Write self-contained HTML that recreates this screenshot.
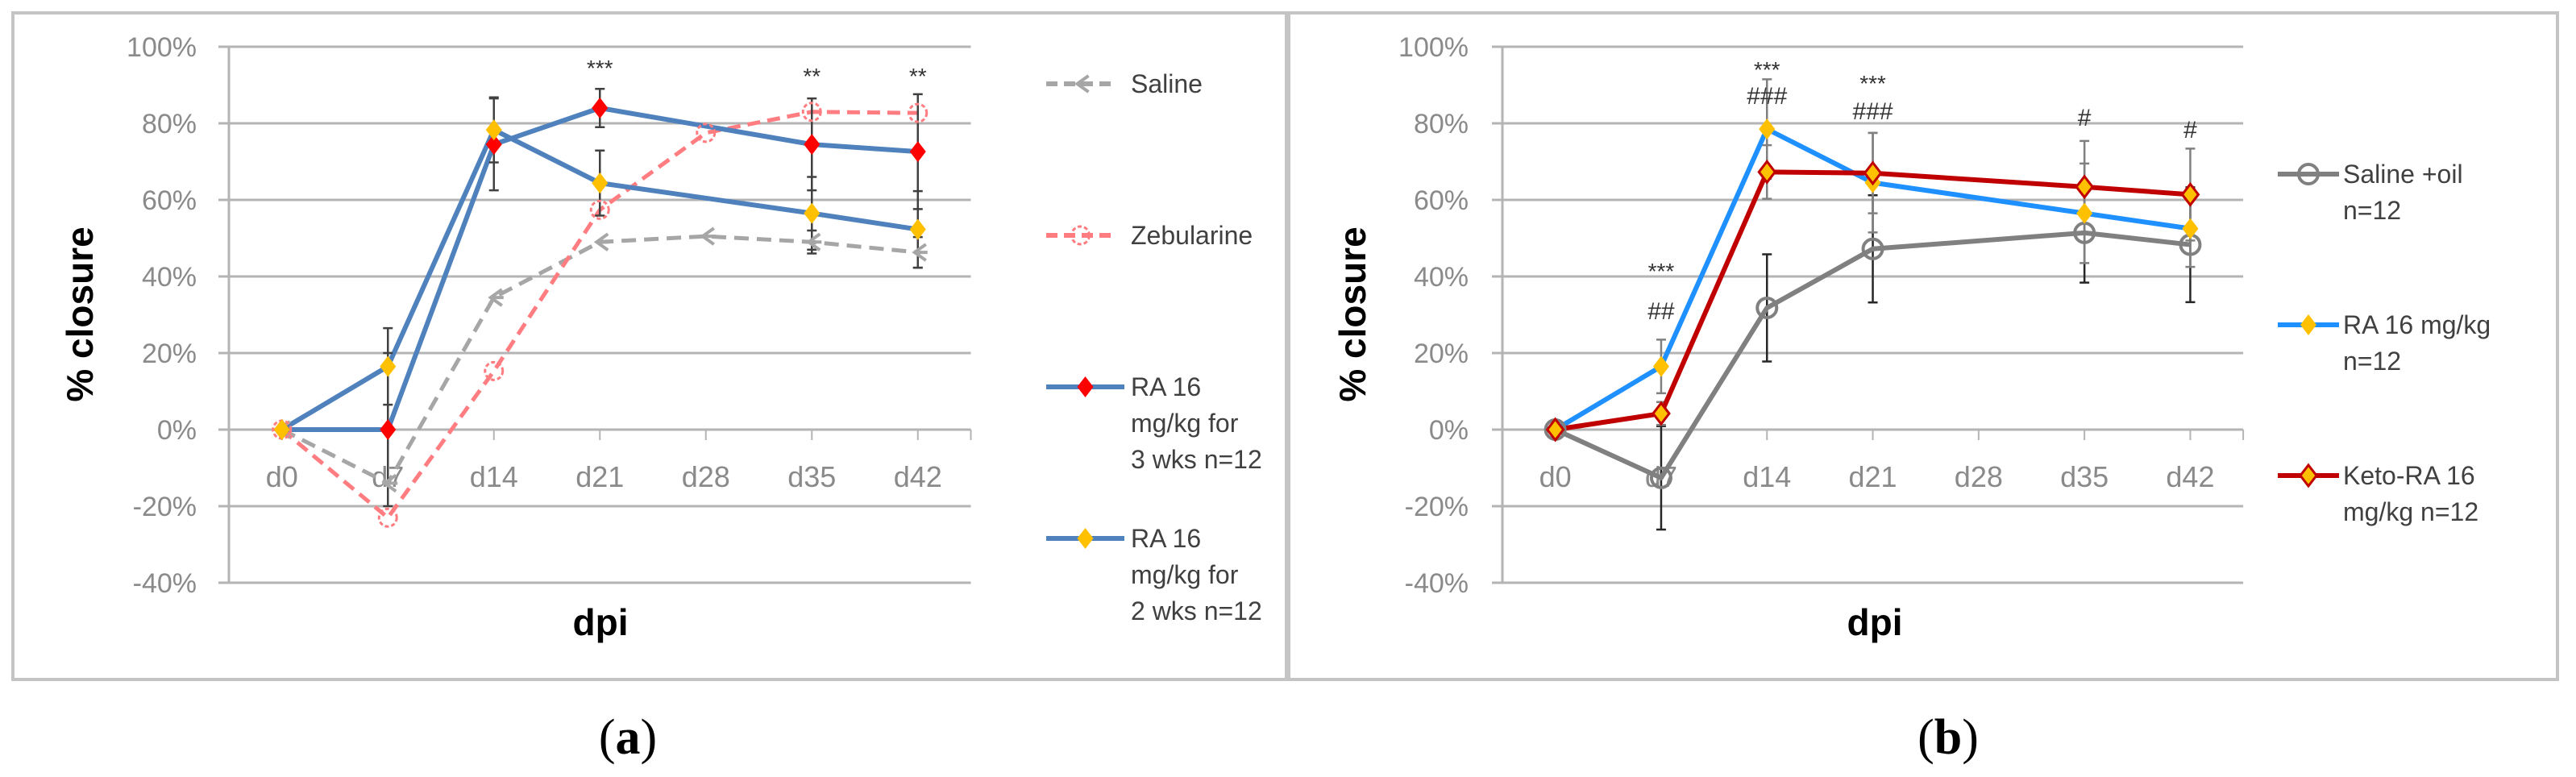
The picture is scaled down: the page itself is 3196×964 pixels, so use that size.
<!DOCTYPE html>
<html><head><meta charset="utf-8"><style>
html,body{margin:0;padding:0;background:#fff;}
svg{display:block;font-family:"Liberation Sans",sans-serif;}
</style></head><body>
<svg id="fig" width="3196" height="964" viewBox="0 0 3196 964">
<rect x="0" y="0" width="3196" height="964" fill="#fff"/>
<rect x="16" y="16" width="1580" height="827" fill="none" stroke="#c4c4c4" stroke-width="4"/>
<rect x="1599" y="16" width="1574" height="827" fill="none" stroke="#c4c4c4" stroke-width="4"/>
<text x="779" y="935" font-family="Liberation Serif,serif" font-size="62" text-anchor="middle">(<tspan font-weight="bold">a</tspan>)</text>
<text x="2417" y="935" font-family="Liberation Serif,serif" font-size="62" text-anchor="middle">(<tspan font-weight="bold">b</tspan>)</text>
</svg>
<script>
const categories = ["d0","d7","d14","d21","d28","d35","d42"];
const yTicks = [100,80,60,40,20,0,-20,-40];
const yTickLabels = ["100%","80%","60%","40%","20%","0%","-20%","-40%"];
// Panel a series (null = no point)
const aSaline      = [0,-14,34.5,49,50.5,49,46.3];
const aSalineErr   = [0,0,0,0,0,3,4];
const aZeb         = [0,-23,15.3,57.4,77.5,83,82.7];
const aZebErr      = [0,0,0,0,0,0,0];
const aRA3         = [0,0,74.5,84,null,74.5,72.6];
const aRA3Err      = [0,20,12,5,0,12,15];
const aRA2         = [0,16.5,78.3,64.4,null,56.5,52.3];
const aRA2Err      = [0,10,8.5,8.5,0,9.5,10];
const aStars       = ["","","","***","","**","**"];
// Panel b series
const bSaline      = [0,-12.6,31.8,47.2,null,51.4,48.3];
const bSalineErr   = [0,13.5,14,14,0,13,15];
const bRA          = [0,16.5,78.5,64.5,null,56.5,52.5];
const bRAErr       = [0,7,13,13,0,13,10];
const bKeto        = [0,4.2,67.3,67,null,63.4,61.4];
const bKetoErr     = [0,3,7,10.5,0,12,12];
const bStars       = ["","***","***","***","","",""];
const bHash        = ["","##","###","###","","#","#"];

const NS="http://www.w3.org/2000/svg";
const svg=document.getElementById('fig');
function el(tag,attrs,parent){const e=document.createElementNS(NS,tag);for(const k in attrs)e.setAttribute(k,attrs[k]);(parent||svg).appendChild(e);return e;}
function yScale(v){return 533-(v)*4.75;}
function makeX(x0,step){return i=>x0+step*(i+0.5);}

function axes(g,left,right,step,yLabelX,yTitleX,dpiX){
  yTicks.forEach((t,i)=>{
    const ln=el('line',{x1:left-13,x2:right,y1:yScale(t),y2:yScale(t),stroke:'#b4b4b4','stroke-width':3},g);
    
    
    const tx=el('text',{x:yLabelX,y:yScale(t)+12,'text-anchor':'end','font-size':34,fill:'#8a8a8a'},g);
    tx.textContent=yTickLabels[i];
    
    
  });
  const ax=el('line',{x1:left,x2:left,y1:yScale(100),y2:yScale(-40),stroke:'#b4b4b4','stroke-width':3},g);
  
  
  categories.forEach((c,i)=>{
    const x=left+step*(i+0.5);
    const tk=el('line',{x1:x,x2:x,y1:533,y2:546,stroke:'#b4b4b4','stroke-width':2},g);
    
    
    const tx=el('text',{x:x,y:604,'text-anchor':'middle','font-size':36,fill:'#8a8a8a'},g);
    tx.textContent=c;
    
    
  });
  const rt=el('line',{x1:right,x2:right,y1:533,y2:546,stroke:'#b4b4b4','stroke-width':2},g);
  
  
  const yt=el('text',{x:0,y:0,'text-anchor':'middle','font-size':46,'font-weight':'bold',fill:'#000',transform:`translate(${yTitleX+16},390) rotate(-90)`},g);
  yt.textContent='% closure';
  
  
  const xt=el('text',{x:dpiX,y:788,'text-anchor':'middle','font-size':46,'font-weight':'bold',fill:'#000'},g);
  xt.textContent='dpi';
  
  
}

function errBars(g,X,vals,errs,color){
  vals.forEach((v,i)=>{
    if(v===null||!errs[i])return;
    const x=X(i),y1=yScale(v+errs[i]),y2=yScale(v-errs[i]);
    const e=el('path',{d:`M${x},${y1}V${y2}M${x-6},${y1}H${x+6}M${x-6},${y2}H${x+6}`,stroke:color,'stroke-width':2.5,fill:'none'},g);
    
    
  });
}
function series(g,X,vals,color,width,dash,name){
  let d='';vals.forEach((v,i)=>{if(v===null)return;d+=(d?'L':'M')+X(i)+','+yScale(v);});
  const p=el('path',{d:d,stroke:color,'stroke-width':width,fill:'none','stroke-dasharray':dash||'none','stroke-linejoin':'round'},g);
  
  
}
function marker(g,x,y,type,fill,stroke,name){
  let m;
  if(type==='diamond'){m=el('path',{d:`M${x},${y-13}L${x+10},${y}L${x},${y+13}L${x-10},${y}Z`,fill:fill,stroke:stroke||'none','stroke-width':stroke?3:0},g);}
  else if(type==='circle'){m=el('circle',{cx:x,cy:y,r:12,fill:'none',stroke:stroke,'stroke-width':4},g);}
  else if(type==='dcircle'){m=el('circle',{cx:x,cy:y,r:11,fill:'none',stroke:stroke,'stroke-width':3,'stroke-dasharray':'5 3'},g);}
  else {m=el('path',{d:`M${x+10},${y-10}L${x-4},${y}L${x+10},${y+10}M${x-4},${y}H${x+12}`,fill:'none',stroke:stroke,'stroke-width':4},g);}
  
  
}
function markers(g,X,vals,type,fill,stroke,name){vals.forEach((v,i)=>{if(v===null)return;marker(g,X(i),yScale(v),type,fill,stroke,name);});}
function txt(g,x,y,s,size,fill,name,anchor){const t=el('text',{x:x,y:y,'font-size':size,fill:fill||'#000','text-anchor':anchor||'start'},g);t.textContent=s;return t;}
function legendEntry(g,x1,x2,y,color,dash,type,fill,stroke,lines,tx,name){
  const gg=el('g',{},g);
  
  
  const l=el('line',{x1:x1,x2:x2,y1:y,y2:y,stroke:color,'stroke-width':6,'stroke-dasharray':dash||'none'},gg);
  
  
  marker(gg,(x1+x2)/2,y,type,fill,stroke,'legend');
  lines.forEach((s,i)=>txt(gg,tx,y+11+i*45,s,32,'#404040','legend-label'));
}

// Panel A
const gA=el('g',{});
const leftA=284,stepA=131.5,rightA=leftA+7*stepA;const XA=makeX(leftA,stepA);
axes(gA,leftA,rightA,stepA,244,99,745);
series(gA,XA,aSaline,'#a6a6a6',5,'18 10','saline');
series(gA,XA,aZeb,'#ff7c80',5,'16 9','zebularine');
series(gA,XA,aRA3,'#4f81bd',6,null,'ra-3wks');
series(gA,XA,aRA2,'#4f81bd',6,null,'ra-2wks');
errBars(gA,XA,aSaline,aSalineErr,'#404040');
errBars(gA,XA,aRA3,aRA3Err,'#404040');
errBars(gA,XA,aRA2,aRA2Err,'#404040');
markers(gA,XA,aSaline,'arrow',null,'#a6a6a6','saline');
markers(gA,XA,aZeb,'dcircle',null,'#ff7c80','zebularine');
markers(gA,XA,aRA3,'diamond','#ff0000',null,'ra-3wks');
markers(gA,XA,aRA2,'diamond','#ffc000',null,'ra-2wks');
aStars.forEach((s,i)=>{if(s)txt(gA,XA(i),[0,0,0,94,0,104,104][i]||100,s,28,'#333','significance-stars','middle');});
legendEntry(gA,1298,1383,104,'#a6a6a6','14 8','arrow',null,'#a6a6a6',['Saline'],1403,'legend-saline');
legendEntry(gA,1298,1383,292,'#ff7c80','14 8','dcircle',null,'#ff7c80',['Zebularine'],1403,'legend-zebularine');
legendEntry(gA,1298,1395,480,'#4f81bd',null,'diamond','#ff0000',null,['RA 16','mg/kg  for','3 wks n=12'],1403,'legend-ra-3wks');
legendEntry(gA,1298,1395,668,'#4f81bd',null,'diamond','#ffc000',null,['RA 16','mg/kg  for','2 wks n=12'],1403,'legend-ra-2wks');

// Panel B
const gB=el('g',{});
const leftB=1864,stepB=131.3,rightB=leftB+7*stepB;const XB=makeX(leftB,stepB);
axes(gB,leftB,rightB,stepB,1822,1678,2326);
errBars(gB,XB,bSaline,bSalineErr,'#262626');
errBars(gB,XB,bRA,bRAErr,'#808080');
errBars(gB,XB,bKeto,bKetoErr,'#808080');
series(gB,XB,bSaline,'#808080',6,null,'saline-oil');
series(gB,XB,bRA,'#1e90ff',6,null,'ra');
series(gB,XB,bKeto,'#c00000',6,null,'keto-ra');
markers(gB,XB,bSaline,'circle',null,'#808080','saline-oil');
markers(gB,XB,bRA,'diamond','#ffc000',null,'ra');
markers(gB,XB,bKeto,'diamond','#ffc000','#c00000','keto-ra');
const starY=[0,346,96,113,0,0,0],hashY=[0,396,129,148,0,156,171];
bStars.forEach((s,i)=>{if(s)txt(gB,XB(i),starY[i],s,28,'#333','significance-stars','middle');});
bHash.forEach((s,i)=>{if(s)txt(gB,XB(i),hashY[i],s,30,'#333','significance-hash','middle');});
legendEntry(gB,2826,2902,216,'#808080',null,'circle',null,'#808080',['Saline +oil','n=12'],2907,'legend-saline-oil');
legendEntry(gB,2826,2902,403,'#1e90ff',null,'diamond','#ffc000',null,['RA 16 mg/kg','n=12'],2907,'legend-ra');
legendEntry(gB,2826,2902,590,'#c00000',null,'diamond','#ffc000','#c00000',['Keto-RA 16','mg/kg n=12'],2907,'legend-keto-ra');
</script>
</body></html>
